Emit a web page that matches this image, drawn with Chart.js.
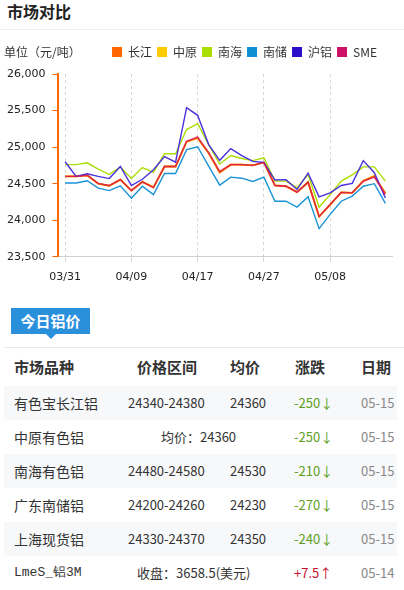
<!DOCTYPE html>
<html>
<head>
<meta charset="utf-8">
<script src="https://cdn.jsdelivr.net/npm/chart.js@4.4.1/dist/chart.umd.min.js"></script>
<style>
  body { margin: 0; width: 404px; height: 590px; background: #fff; font-family: 'Noto Sans CJK SC', sans-serif; color: #333; position: relative; overflow: hidden; }
  .head { position: absolute; left: 7px; top: 0; font-size: 16px; font-weight: bold; color: #222; line-height: 22px; }
  .headline { position: absolute; left: 0; top: 29px; width: 404px; height: 1px; background: #eee; }
  .unit { position: absolute; left: 4px; top: 44px; font-size: 12px; color: #333; line-height: 16px; }
  .wrap { position: absolute; left: 0; top: 36px; width: 404px; height: 257px; }
  .tab { position: absolute; left: 11px; top: 308px; width: 79px; height: 26px; background: #2a90dc; color: #fff; font-size: 15px; font-weight: bold; line-height: 26px; text-align: center; }
  .tab:after { content: ''; position: absolute; left: 35px; top: 26px; border: 5px solid transparent; border-top-color: #2a90dc; border-bottom: 0; }
  .tabline { position: absolute; left: 4px; top: 347px; width: 400px; height: 1px; background: #e6e6ee; }
  .row { position: absolute; left: 4px; width: 393px; height: 34px; }
  .row span { position: absolute; top: 0; line-height: 34px; white-space: nowrap; }
  .row.g { background: #f7f8fa; }
  .hd span { font-weight: bold; font-size: 15px; color: #333; }
  .nm { font-size: 14px; }
  .mono { font-family: 'Liberation Mono', monospace; font-size: 13px; }
  .num { font-size: 13px; color: #333; }
  .dn { color: #5e9e22; font-size: 13px; }
  .up { color: #c8102e; font-size: 13px; }
  .dt { color: #888; font-size: 13px; }
</style>
</head>
<body>
<div class="head">市场对比</div>
<div class="headline"></div>
<div class="wrap"><canvas id="priceChart" width="404" height="257"></canvas></div>
<div class="unit">单位（元/吨）</div>

<div class="tab">今日铝价</div>
<div class="tabline"></div>
<div class="row hd" style="top:350px">
  <span style="left:10px">市场品种</span><span style="left:133px">价格区间</span><span style="left:226px">均价</span><span style="left:291px">涨跌</span><span style="left:357px">日期</span>
</div>
<div id="rows"></div>

<script>
// trading days shown on the chart
var dates = ['03/31','04/01','04/02','04/03','04/07','04/08','04/09','04/10','04/11','04/14',
             '04/15','04/16','04/17','04/18','04/21','04/22','04/23','04/24','04/27','04/28',
             '04/29','04/30','05/06','05/07','05/08','05/09','05/12','05/13','05/14','05/15'];

var changjiang = [24600,24600,24615,24500,24470,24555,24405,24525,24450,24735,
                  24735,25075,25125,24920,24655,24760,24760,24750,24790,24475,
                  24465,24385,24520,24050,24215,24380,24375,24535,24600,24370];
var zhongyuan  = [24600,24600,24615,24500,24470,24555,24405,24525,24450,24735,
                  24735,25075,25125,24920,24655,24760,24760,24750,24790,24475,
                  24465,24385,24520,24050,24215,24380,24375,24540,24610,24360];
var nanhai     = [24760,24760,24785,24700,24625,24730,24570,24720,24655,24910,
                  24910,25240,25320,25035,24770,24885,24845,24815,24855,24535,
                  24535,24445,24625,24180,24350,24535,24620,24730,24730,24535];
var nanchu     = [24510,24510,24540,24440,24405,24470,24300,24465,24350,24640,
                  24640,24965,25005,24740,24480,24590,24575,24530,24590,24260,
                  24260,24180,24320,23885,24080,24260,24330,24465,24500,24230];
var hulv       = [24800,24600,24635,24600,24570,24735,24475,24560,24690,24870,
                  24795,25540,25435,25035,24820,24980,24885,24805,24790,24550,
                  24555,24420,24645,24320,24375,24475,24505,24815,24650,24305];
var sme        = [24600,24600,24615,24505,24475,24555,24405,24525,24445,24735,
                  24735,25080,25140,24920,24670,24760,24760,24750,24790,24475,
                  24465,24385,24520,24050,24215,24380,24375,24535,24590,24350];

var yMin = 23500, yMax = 26000, yStep = 500;
var labelEvery = 6;

// today's price table
var tableRows = [
  { name: '有色宝长江铝', range: '24340-24380', avg: '24360', chg: '-250', dir: 'dn', date: '05-15' },
  { name: '中原有色铝', range: '', avg: '均价：24360', chg: '-250', dir: 'dn', date: '05-15' },
  { name: '南海有色铝', range: '24480-24580', avg: '24530', chg: '-210', dir: 'dn', date: '05-15' },
  { name: '广东南储铝', range: '24200-24260', avg: '24230', chg: '-270', dir: 'dn', date: '05-15' },
  { name: '上海现货铝', range: '24330-24370', avg: '24350', chg: '-240', dir: 'dn', date: '05-15' },
  { name: 'LmeS_铝3M', range: '', avg: '收盘：3658.5(美元)', chg: '+7.5', dir: 'up', date: '05-14' }
];

function pts(arr) {
    return arr.map(function(v, i) { return { x: i, y: v }; });
}

function line(label, arr, color, width, order) {
    return {
        label: label,
        data: pts(arr),
        borderColor: color,
        backgroundColor: color,
        borderWidth: width,
        pointRadius: 0,
        tension: 0,
        order: order
    };
}

var axisFont = { family: 'DejaVu Sans', size: 11 };

new Chart(document.getElementById('priceChart').getContext('2d'), {
    type: 'line',
    data: {
        datasets: [
            line('长江', changjiang, '#ff6600', 1.8, 2),
            line('中原', zhongyuan, '#ffcc00', 1.8, 3),
            line('南海', nanhai, '#aadd00', 1.4, 5),
            line('南储', nanchu, '#1a93d6', 1.4, 4),
            line('沪铝', hulv, '#4a2fdc', 1.4, 1),
            line('SME', sme, 'rgba(214,20,90,0.8)', 1.3, 0)
        ]
    },
    options: {
        responsive: false,
        animation: false,
        layout: { padding: { left: 0, right: 12, top: 11, bottom: 0 } },
        plugins: {
            legend: {
                position: 'top',
                align: 'end',
                labels: {
                    boxWidth: 10,
                    boxHeight: 10,
                    padding: 5,
                    color: '#333',
                    font: { family: "'Noto Sans CJK SC', sans-serif", size: 12 },
                    generateLabels: function(chart) {
                        return chart.data.datasets.map(function(ds, i) {
                            return { text: ds.label, fillStyle: ['#ff6600','#ffcc00','#aadd00','#0f8fd3','#2b0fc8','#cc1166'][i],
                                     strokeStyle: 'transparent', lineWidth: 0, datasetIndex: i, fontColor: '#333' };
                        });
                    }
                }
            },
            tooltip: { enabled: false }
        },
        scales: {
            x: {
                type: 'linear',
                min: -0.6,
                max: 29.6,
                afterBuildTicks: function(scale) {
                    scale.ticks = dates.map(function(d, i) { return i; })
                        .filter(function(i) { return i % labelEvery === 0; })
                        .map(function(i) { return { value: i }; });
                },
                ticks: {
                    color: '#222',
                    font: axisFont,
                    padding: 9,
                    maxRotation: 0,
                    callback: function(v) { return dates[v]; }
                },
                grid: { color: '#d6d6d6', tickLength: 5, tickColor: '#d6d6d6' },
                border: { color: '#d0d0d0', dash: [3, 3] }
            },
            y: {
                min: yMin,
                max: yMax,
                ticks: {
                    stepSize: yStep,
                    color: '#222',
                    font: axisFont,
                    padding: 7,
                    callback: function(v) { return v.toLocaleString('en-US'); }
                },
                grid: { drawOnChartArea: false, color: '#ff6600', tickLength: 6 },
                border: { color: '#ff6600', width: 2 }
            }
        }
    },
    plugins: [{
        id: 'shiftLegend',
        afterLayout: function(chart) {
            chart.legend.right -= 10;
            chart.legend.top -= 6;
        }
    }]
});

// build the table rows
var html = '';
tableRows.forEach(function(r, i) {
    var top = 386 + i * 34;
    var arrow = r.dir === 'up' ? '↑' : '↓';
    html += '<div class="row' + (i % 2 === 0 ? ' g' : '') + '" style="top:' + top + 'px">';
    html += '<span class="nm' + (i === 5 ? ' mono' : '') + '" style="left:10px">' + r.name + '</span>';
    if (r.range) {
        html += '<span class="num" style="left:124px">' + r.range + '</span>';
        html += '<span class="num" style="left:226px">' + r.avg + '</span>';
    } else {
        html += '<span class="num" style="left:' + (i === 1 ? 157 : 133) + 'px">' + r.avg + '</span>';
    }
    html += '<span class="' + r.dir + '" style="left:290px">' + r.chg + arrow + '</span>';
    html += '<span class="dt" style="left:357px">' + r.date + '</span>';
    html += '</div>';
});
document.getElementById('rows').innerHTML = html;
</script>
</body>
</html>
